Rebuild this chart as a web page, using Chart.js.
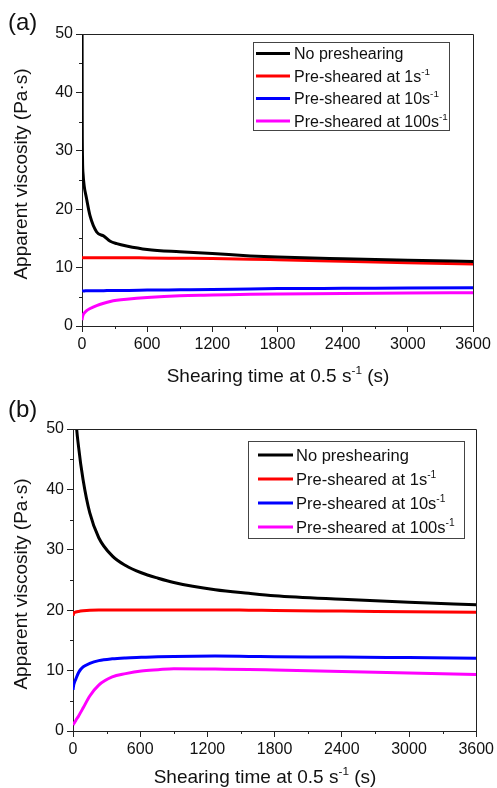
<!DOCTYPE html>
<html>
<head>
<meta charset="utf-8">
<script src="https://cdn.jsdelivr.net/npm/chart.js@4.4.0/dist/chart.umd.min.js"></script>
<style>
html,body{margin:0;padding:0;background:#fff;}
canvas{display:block;}
</style>
</head>
<body>
<canvas id="ca" width="497" height="394"></canvas>
<canvas id="cb" width="497" height="394"></canvas>
<script>
// ---- labels ----
const seriesNames = ["No preshearing", "Pre-sheared at 1s⁻¹", "Pre-sheared at 10s⁻¹", "Pre-sheared at 100s⁻¹"];
const seriesColors = ["#000000", "#ff0000", "#0000ff", "#ff00ff"];
const xTitle = "Shearing time at 0.5 s⁻¹ (s)";
const yTitle = "Apparent viscosity (Pa·s)";
const panelLabels = ["(a)", "(b)"];
const xTicks = [0, 600, 1200, 1800, 2400, 3000, 3600];
const yTicks = [0, 10, 20, 30, 40, 50];
const xMinor = [300, 900, 1500, 2100, 2700, 3300];
const yMinor = [5, 15, 25, 35, 45];

// ---- panel (a) data ----
const timeA    = [0, 2, 5, 10, 20, 40, 75, 135, 200, 260, 320, 410, 600, 900, 1200, 1550, 1800, 2400, 3000, 3600];
const noPreA   = [60, 36, 28.5, 26, 24, 22, 18.8, 16.1, 15.4, 14.5, 14.1, 13.7, 13.1, 12.7, 12.4, 12.0, 11.8, 11.5, 11.25, 11.05];
const pre1A    = [11.7, 11.7, 11.7, 11.7, 11.7, 11.7, 11.7, 11.7, 11.7, 11.7, 11.7, 11.7, 11.65, 11.6, 11.55, 11.45, 11.35, 11.1, 10.85, 10.6];
const pre10A   = [5.9, 5.95, 6.0, 6.0, 6.0, 6.05, 6.05, 6.05, 6.05, 6.1, 6.1, 6.1, 6.15, 6.2, 6.25, 6.35, 6.4, 6.45, 6.5, 6.55];
const pre100A  = [1.0, 1.3, 1.6, 1.9, 2.2, 2.6, 3.0, 3.5, 3.9, 4.2, 4.4, 4.6, 4.9, 5.2, 5.3, 5.45, 5.5, 5.55, 5.65, 5.7];

// ---- panel (b) data ----
const timeB    = [0, 5, 12, 25, 50, 90, 150, 230, 350, 470, 610, 760, 900, 1270, 1570, 1800, 2400, 3000, 3600];
const noPreB   = [75, 65, 58, 52, 47, 41.6, 36.1, 32.0, 29.0, 27.4, 26.2, 25.3, 24.6, 23.4, 22.8, 22.4, 21.8, 21.3, 20.9];
const pre1B    = [19.1, 19.4, 19.6, 19.7, 19.8, 19.9, 20.0, 20.05, 20.05, 20.05, 20.05, 20.05, 20.05, 20.05, 20.0, 19.95, 19.85, 19.75, 19.65];
const pre10B   = [6.8, 7.5, 8.0, 8.6, 9.7, 10.6, 11.2, 11.65, 11.95, 12.1, 12.2, 12.3, 12.35, 12.4, 12.35, 12.3, 12.25, 12.15, 12.05];
const pre100B  = [1.0, 1.15, 1.35, 1.75, 2.5, 3.8, 5.8, 7.6, 8.95, 9.5, 9.95, 10.15, 10.3, 10.25, 10.2, 10.1, 9.85, 9.6, 9.35];

const FONT = "'Liberation Sans', Arial, Helvetica, sans-serif";
const TXT = '#111';
const AX = '#222';

const SUP = {'⁻':'-','¹':'1','⁰':'0','²':'2','³':'3'};
function splitParts(str){
  const out=[];
  for(const ch of str){
    const sup = ch in SUP; const c = sup ? SUP[ch] : ch;
    const last = out[out.length-1];
    if(last && last.sup===sup) last.t += c; else out.push({t:c, sup});
  }
  return out;
}
function fnt(s){ return s + 'px ' + FONT; }
function drawRich(ctx, str, x, y, size, align){
  const ps = splitParts(str);
  let w = 0;
  for(const p of ps){ ctx.font = fnt(p.sup ? size*0.62 : size); w += ctx.measureText(p.t).width; }
  let cx = align==='center' ? x - w/2 : x;
  ctx.textAlign='left'; ctx.textBaseline='alphabetic'; ctx.fillStyle=TXT;
  for(const p of ps){
    const s = p.sup ? size*0.62 : size;
    ctx.font = fnt(s);
    ctx.fillText(p.t, cx, p.sup ? y - size*0.42 : y);
    cx += ctx.measureText(p.t).width;
  }
}

function decorPlugin(cfg){
  return {
    id:'decor'+cfg.id,
    afterDraw(chart){
      const ctx = chart.ctx; const a = chart.chartArea;
      const xs = chart.scales.x, ys = chart.scales.y;
      ctx.save();
      // frame top & right
      ctx.strokeStyle = AX; ctx.lineWidth = 1;
      ctx.beginPath();
      ctx.moveTo(Math.round(a.left), Math.round(a.top)+0.5);
      ctx.lineTo(Math.round(a.right)+0.5, Math.round(a.top)+0.5);
      ctx.lineTo(Math.round(a.right)+0.5, Math.round(a.bottom));
      ctx.stroke();
      // minor ticks
      ctx.beginPath();
      for(const v of yMinor){ const py = Math.round(ys.getPixelForValue(v))+0.5; ctx.moveTo(a.left-3, py); ctx.lineTo(a.left, py); }
      for(const v of xMinor){ const px = Math.round(xs.getPixelForValue(v))+0.5; ctx.moveTo(px, a.bottom); ctx.lineTo(px, a.bottom+3); }
      ctx.stroke();
      // panel label
      ctx.fillStyle = TXT; ctx.font = fnt(24); ctx.textAlign='left'; ctx.textBaseline='middle';
      ctx.fillText(cfg.label, 8, cfg.labelY);
      // y title
      ctx.save();
      ctx.translate(cfg.yTitleX, cfg.yTitleY); ctx.rotate(-Math.PI/2);
      ctx.font = fnt(19); ctx.textAlign='center'; ctx.textBaseline='middle'; ctx.fillStyle = TXT;
      ctx.fillText(yTitle, 0, 0);
      ctx.restore();
      // x title
      drawRich(ctx, xTitle, cfg.xTitleX, cfg.xTitleBase, 19, 'center');
      // legend
      const L = cfg.legend;
      const bx = a.left + L.dx, by = a.top + L.dy;
      ctx.strokeStyle = '#444'; ctx.lineWidth = 1;
      ctx.strokeRect(Math.round(bx)+0.5, Math.round(by)+0.5, L.w, L.h);
      chart.data.datasets.forEach((ds, i) => {
        const ry = by + L.first + i*L.step;
        ctx.strokeStyle = ds.borderColor; ctx.lineWidth = 3;
        ctx.beginPath(); ctx.moveTo(bx + L.s0, ry); ctx.lineTo(bx + L.s1, ry); ctx.stroke();
        drawRich(ctx, ds.label, bx + L.tx, ry + 5.5, L.fs, 'left');
      });
      ctx.restore();
    }
  };
}

function makeChart(cfg){
  const datasets = cfg.series.map((vals, i) => ({
    label: seriesNames[i],
    data: cfg.time.map((t, j) => ({x: t, y: vals[j]})),
    borderColor: seriesColors[i], backgroundColor: seriesColors[i],
    borderWidth: 3, pointRadius: 0, cubicInterpolationMode: 'monotone', fill: false
  }));
  return new Chart(document.getElementById(cfg.id), {
    type: 'line',
    data: { datasets },
    options: {
      responsive: false, animation: false, devicePixelRatio: 1,
      layout: { padding: { left: 0, top: cfg.padTop, right: cfg.padRight, bottom: 0 } },
      plugins: { legend: { display: false }, tooltip: { enabled: false } },
      scales: {
        x: {
          type: 'linear', min: 0, max: 3600,
          afterBuildTicks: s => { s.ticks = xTicks.map(v => ({value: v})); },
          afterFit: s => { s.height = cfg.xh; },
          ticks: { autoSkip: false, maxRotation: 0, padding: 3, color: TXT, font: { family: FONT, size: 16 }, callback: v => String(v) },
          grid: { drawOnChartArea: false, drawTicks: true, tickLength: 6, color: AX },
          border: { display: true, color: AX, width: 1 },
          title: { display: false }
        },
        y: {
          type: 'linear', min: 0, max: 50,
          afterBuildTicks: s => { s.ticks = yTicks.map(v => ({value: v})); },
          afterFit: s => { s.width = cfg.yw; },
          ticks: { padding: 3, color: TXT, font: { family: FONT, size: 16 }, callback: v => String(v) },
          grid: { drawOnChartArea: false, drawTicks: true, tickLength: 6, color: AX },
          border: { display: true, color: AX, width: 1 },
          title: { display: false }
        }
      }
    },
    plugins: [decorPlugin(cfg)]
  });
}

makeChart({
  id: 'ca', label: panelLabels[0], labelY: 23,
  time: timeA, series: [noPreA, pre1A, pre10A, pre100A],
  padTop: 34, padRight: 24, xh: 68, yw: 82,
  yTitleX: 22, yTitleY: 174, xTitleX: 278, xTitleBase: 382,
  legend: { dx: 171, dy: 8, w: 196, h: 88, first: 11.5, step: 22.5, s0: 3, s1: 37, tx: 41, fs: 16 }
});
makeChart({
  id: 'cb', label: panelLabels[1], labelY: 16,
  time: timeB, series: [noPreB, pre1B, pre10B, pre100B],
  padTop: 35, padRight: 18, xh: 57, yw: 73,
  yTitleX: 22, yTitleY: 190, xTitleX: 265, xTitleBase: 389,
  legend: { dx: 175, dy: 12, w: 216, h: 97, first: 14, step: 24, s0: 10, s1: 45, tx: 48, fs: 16.5 }
});
</script>
</body>
</html>
